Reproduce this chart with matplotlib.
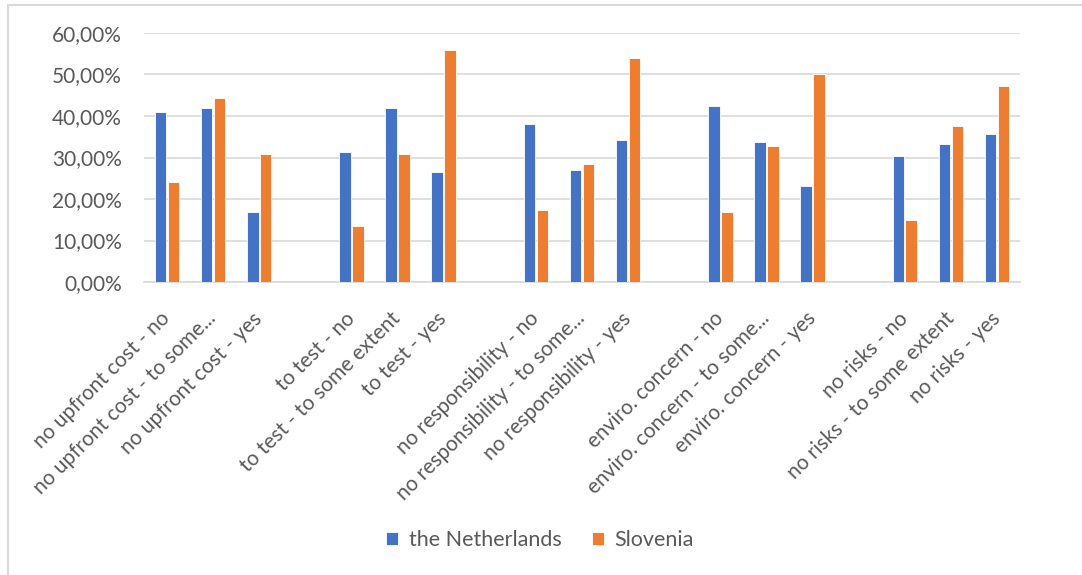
import matplotlib.pyplot as plt
import numpy as np
from matplotlib.ticker import FuncFormatter
from matplotlib.transforms import ScaledTranslation

# categories (empty strings are the gaps between groups)
categories = ['no upfront cost - no', 'no upfront cost - to some...', 'no upfront cost - yes', '',
              'to test - no', 'to test - to some extent', 'to test - yes', '',
              'no responsibility - no', 'no responsibility - to some...', 'no responsibility - yes', '',
              'enviro. concern - no', 'enviro. concern - to some...', 'enviro. concern - yes', '',
              'no risks - no', 'no risks - to some extent', 'no risks - yes']

netherlands = [41.0, 41.9, 16.9, np.nan,
               31.3, 41.9, 26.6, np.nan,
               38.1, 27.1, 34.2, np.nan,
               42.4, 33.7, 23.2, np.nan,
               30.4, 33.3, 35.7]
slovenia = [24.1, 44.3, 30.9, np.nan,
            13.6, 30.8, 55.8, np.nan,
            17.4, 28.5, 53.9, np.nan,
            16.9, 32.8, 50.1, np.nan,
            15.0, 37.6, 47.2]

blue = '#4472C4'
orange = '#ED7D31'
grey = '#595959'

plt.rcParams['font.family'] = ['Lato', 'DejaVu Sans']

fig = plt.figure(figsize=(10.82, 5.75), dpi=100)
ax = fig.add_axes([144 / 1082, 1 - 282 / 575, 876 / 1082, 249 / 575 * 1.0])

x = np.arange(len(categories))
w = 0.25
ax.bar(x - 0.14, netherlands, w, color=blue, edgecolor='white', linewidth=0.6, label='the Netherlands', zorder=3)
ax.bar(x + 0.14, slovenia, w, color=orange, edgecolor='white', linewidth=0.6, label='Slovenia', zorder=3)

ax.set_xlim(-0.5, len(categories) - 0.5)
ax.set_ylim(0, 60)
ax.set_yticks(np.arange(0, 61, 10))
ax.yaxis.set_major_formatter(FuncFormatter(lambda v, p: ('%.2f%%' % v).replace('.', ',')))
ax.grid(axis='y', color='#d9d9d9', linewidth=1.2, zorder=0)
for s in ['top', 'right', 'left']:
    ax.spines[s].set_visible(False)
ax.spines['bottom'].set_color('#d9d9d9')
ax.spines['bottom'].set_linewidth(1.2)
ax.tick_params(length=0, colors=grey)
ax.tick_params(axis='y', labelsize=15, pad=16)

ax.set_xticks(x)
ax.set_xticklabels(categories, rotation=45, ha='right', rotation_mode='anchor', fontsize=15, color=grey)
ax.tick_params(axis='x', pad=19)
# nudge rotated labels a little to the left
shift = ScaledTranslation(-0.07, 0, fig.dpi_scale_trans)
for lbl in ax.get_xticklabels():
    lbl.set_transform(lbl.get_transform() + shift)

fig.legend(loc='center', bbox_to_anchor=(540 / 1082, 1 - 540 / 575),
           ncol=2, frameon=False, fontsize=15.5, labelcolor=grey, handlelength=0.55, handleheight=0.55,
           columnspacing=1.4, handletextpad=0.5)

# outer chart border
fig.patches.append(plt.Rectangle((8 / 1082, -0.01), 1.02, 1 - 5 / 575 + 0.01, transform=fig.transFigure,
                                 fill=False, edgecolor='#d9d9d9', linewidth=1.5))

fig.savefig('out.png', dpi=100)
